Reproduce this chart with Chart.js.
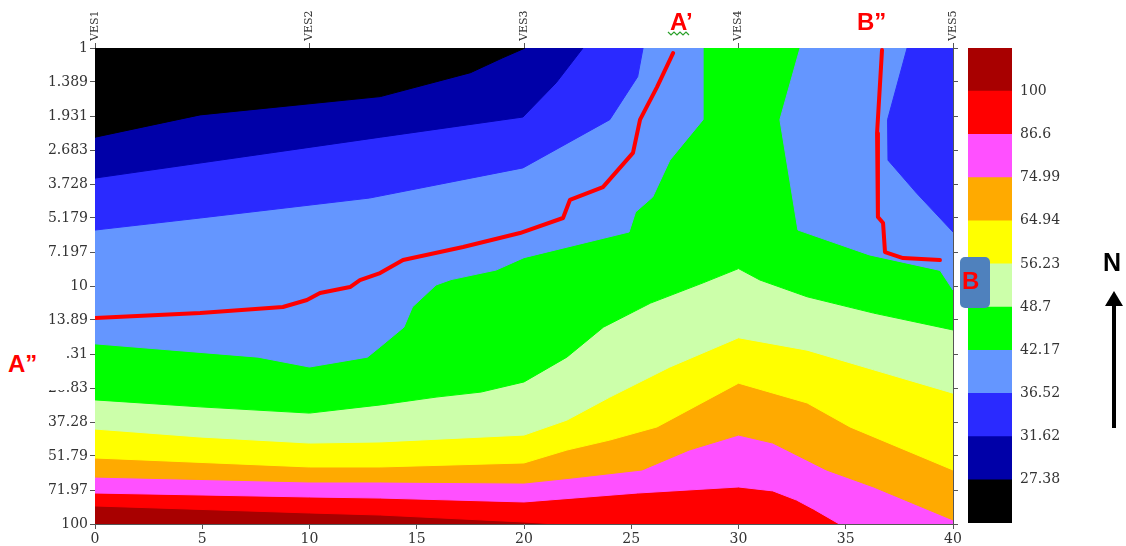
<!DOCTYPE html>
<html>
<head>
<meta charset="utf-8">
<script src="https://cdn.jsdelivr.net/npm/chart.js@4.4.1/dist/chart.umd.min.js"></script>
<style>
    body { margin: 0; background: #fff; }
    #wrap { position: relative; width: 1126px; height: 546px; overflow: hidden; }
    #mainChart { position: absolute; left: 0; top: 0; }
    #scaleChart { position: absolute; left: 960px; top: 0; }
    .tag { position: absolute; font-family: 'Liberation Sans', Arial, sans-serif; font-weight: bold; font-size: 24px; line-height: 24px; color: #ff0000; white-space: nowrap; }
    #maskA { position: absolute; left: 0; top: 340px; width: 65px; height: 50px; background: #fff; }
    #boxB { position: absolute; left: 960px; top: 257px; width: 30px; height: 51px; background: #4f81bd; border-radius: 5px; }
    #north { position: absolute; left: 1103px; top: 250px; font-family: 'Liberation Sans', Arial, sans-serif; font-weight: bold; font-size: 25px; line-height: 25px; color: #000; }
    #arrowShaft { position: absolute; left: 1112px; top: 303px; width: 4px; height: 125px; background: #000; }
    #arrowHead { position: absolute; left: 1105px; top: 291px; width: 0; height: 0; border-left: 9px solid transparent; border-right: 9px solid transparent; border-bottom: 15px solid #000; }
    #squiggle { position: absolute; left: 667px; top: 30px; }
</style>
</head>
<body>
<div id="wrap">
    <canvas id="mainChart" width="1126" height="546"></canvas>
    <canvas id="scaleChart" width="120" height="546"></canvas>
    <div class="tag" style="left:670px; top:10px;">A’</div>
    <svg id="squiggle" width="24" height="6"><polyline points="1,2 4,5 7,2 10,5 13,2 16,5 19,2 22,5" fill="none" stroke="#2aa02a" stroke-width="1.2"/></svg>
    <div class="tag" style="left:857px; top:10px;">B”</div>
    <div id="maskA"></div>
    <div class="tag" style="left:8px; top:352px;">A”</div>
    <div id="boxB"></div>
    <div class="tag" style="left:962px; top:269px;">B</div>
    <div id="north">N</div>
    <div id="arrowHead"></div>
    <div id="arrowShaft"></div>
</div>
<script>
// Depth axis (log, reversed: 1 m at the top)
const depthTicks = [1, 1.389, 1.931, 2.683, 3.728, 5.179, 7.197, 10, 13.89, 19.31, 26.83, 37.28, 51.79, 71.97, 100];
const depthLabels = ['1', '1.389', '1.931', '2.683', '3.728', '5.179', '7.197', '10', '13.89', '19.31', '26.83', '37.28', '51.79', '71.97', '100'];

// Sounding stations along the top
const vesNames = ['VES1', 'VES2', 'VES3', 'VES4', 'VES5'];
const vesPositions = [0, 10, 20, 30, 40];

// Colour scale: levels and band colours (lowest band first)
const levelLabels = ['27.38', '31.62', '36.52', '42.17', '48.7', '56.23', '64.94', '74.99', '86.6', '100'];
const bandColors = ['#000000', '#0000a8', '#2a2aff', '#6496ff', '#00ff00', '#ccffaa', '#ffff00', '#ffaa00', '#ff50ff', '#ff0000', '#a80000'];

// Contour lines as [distance, depth]; the area above each line is below that level
const c27 = [[0, 2.37], [4.9, 1.91], [13.3, 1.6], [17.5, 1.27], [19.0, 1.1], [20.05, 1]];
const c31 = [[0, 3.52], [13.3, 2.37], [19.95, 1.95], [21.5, 1.4], [22.75, 1]];
const c36Left = [[0, 5.82], [4.9, 5.18], [12.8, 4.27], [19.95, 3.19], [24.0, 2.0], [25.3, 1.32], [25.55, 1]];
const c36Right = [[37.86, 1], [36.95, 2.0], [36.97, 2.96], [38.3, 4.07], [40, 5.93]];
const c42Left = [[0, 17.5], [7.6, 19.9], [10, 21.9], [12.7, 19.9], [13.3, 18.0], [14.4, 14.9], [14.8, 12.25], [15.9, 9.9], [16.6, 9.4], [18.7, 8.57], [20, 7.6], [24.9, 5.93], [25.2, 4.89], [26.0, 4.23], [26.8, 2.96], [28.35, 2.0], [28.35, 1]];
const c42Right = [[32.87, 1], [31.93, 2.0], [32.77, 5.82], [36.1, 7.4], [39.4, 8.6], [40, 10.4]];
const c49 = [[0, 30.1], [4.9, 32.2], [10, 34.2], [13.3, 31.6], [15.9, 29.3], [18, 27.9], [20, 25.3], [22, 19.9], [23.7, 14.9], [25.9, 11.8], [28.35, 9.7], [30, 8.45], [31, 9.44], [33.2, 11.1], [36.3, 13.0], [40, 15.3]];
const c56 = [[0, 39.9], [4.9, 43.1], [10, 45.7], [13.3, 45.2], [20, 42.3], [22, 36.6], [24, 29.3], [26.8, 21.9], [30, 16.5], [33.2, 18.6], [36.3, 22.5], [40, 28.2]];
const c65 = [[0, 52.8], [10, 57.6], [13.3, 57.6], [20, 55.4], [22, 48.9], [24, 44.4], [26.2, 39.1], [30, 25.6], [33.2, 31.0], [35.2, 39.1], [40, 59.3]];
const c75 = [[0, 63.5], [10, 66.6], [13.3, 66.6], [20, 67.3], [22.1, 64.3], [25.5, 59.3], [27.7, 48.9], [30, 42.3], [31.6, 45.7], [34.1, 59.3], [36.3, 69.9], [40, 96.2]];
const c87 = [[0, 74.1], [10, 77.0], [13.3, 77.8], [20, 80.8], [25.3, 74.1], [30, 69.9], [31.6, 72.6], [32.7, 79.3], [33.5, 86.6], [34.7, 100], [40, 100]];
const c100 = [[0, 84.0], [10, 89.9], [13.3, 91.7], [20, 98.1], [21.5, 100], [40, 100]];
const cBottom = [[0, 100], [40, 100]];

// Profile lines drawn in red
const profileA = [[0, 13.63], [4.9, 12.98], [8.76, 12.25], [9.88, 11.45], [10.49, 10.7], [11.89, 10.1], [12.35, 9.44], [13.29, 8.82], [14.36, 7.78], [17.16, 6.86], [19.81, 5.99], [21.82, 5.18], [22.14, 4.35], [23.68, 3.84], [25.08, 2.76], [25.41, 2.0], [26.2, 1.46], [26.95, 1.05]];
const profileB = [[36.69, 1.02], [36.46, 2.28], [36.5, 5.13], [36.74, 5.44], [36.83, 7.2], [37.67, 7.63], [39.39, 7.78]];

const toPoints = (pairs) => pairs.map(p => ({ x: p[0], y: p[1] }));

// close a contour up to the top edge so it can be filled as a shape
function regionPoints(pairs) {
    const pts = toPoints(pairs);
    pts.unshift({ x: pairs[0][0], y: 1 });
    pts.push({ x: pairs[pairs.length - 1][0], y: 1 });
    return pts;
}

// painted top first (Chart.js draws dataset 0 last)
const regions = [
    [c27, 0], [c31, 1], [c36Left, 2], [c36Right, 2], [c42Left, 3], [c42Right, 3],
    [c49, 4], [c56, 5], [c65, 6], [c75, 7], [c87, 8], [c100, 9], [cBottom, 10]
];

const lineSet = (pairs) => ({
    data: toPoints(pairs),
    borderColor: '#ff0000',
    borderWidth: 4,
    borderCapStyle: 'round',
    borderJoinStyle: 'round',
    pointRadius: 0,
    fill: false,
    tension: 0,
    clip: 0
});

const datasets = [lineSet(profileA), lineSet(profileB)];
regions.forEach(([pairs, band]) => {
    datasets.push({
        data: regionPoints(pairs),
        backgroundColor: bandColors[band],
        borderColor: bandColors[band],
        borderWidth: 1,
        pointRadius: 0,
        fill: 'shape',
        tension: 0,
        clip: 0
    });
});

const tickFont = { family: "'DejaVu Serif', 'Liberation Serif', serif", size: 14 };
const axisGrid = { drawOnChartArea: false, drawTicks: true, tickLength: 5, color: '#555' };
const axisBorder = { display: true, color: '#555', width: 1 };

const depthAxis = (pos, width, showLabels) => ({
    type: 'logarithmic',
    position: pos,
    reverse: true,
    min: 1,
    max: 100,
    afterBuildTicks: (axis) => { axis.ticks = depthTicks.map(v => ({ value: v })); },
    afterFit: (axis) => { axis.width = width; },
    ticks: {
        display: showLabels,
        autoSkip: false,
        padding: 2,
        color: '#333',
        font: tickFont,
        callback: (value, index) => depthLabels[index]
    },
    grid: axisGrid,
    border: axisBorder
});

new Chart(document.getElementById('mainChart'), {
    type: 'line',
    data: { datasets: datasets },
    options: {
        responsive: false,
        animation: false,
        layout: { padding: 0 },
        plugins: { legend: { display: false }, tooltip: { enabled: false } },
        scales: {
            x: {
                type: 'linear',
                position: 'bottom',
                min: 0,
                max: 40,
                afterFit: (axis) => { axis.height = 22; },
                ticks: { stepSize: 5, padding: 2, color: '#333', font: tickFont, maxRotation: 0 },
                grid: axisGrid,
                border: axisBorder
            },
            xTop: {
                type: 'linear',
                position: 'top',
                min: 0,
                max: 40,
                afterBuildTicks: (axis) => { axis.ticks = vesPositions.map(v => ({ value: v })); },
                afterFit: (axis) => { axis.height = 48; },
                ticks: {
                    autoSkip: false,
                    minRotation: 90,
                    maxRotation: 90,
                    padding: 2,
                    labelOffset: 13,
                    color: '#333',
                    font: { family: "'DejaVu Serif', serif", size: 11 },
                    callback: (value, index) => vesNames[index]
                },
                grid: axisGrid,
                border: axisBorder
            },
            y: depthAxis('left', 95, true),
            y2: depthAxis('right', 173, false)
        }
    }
});

// Colour bar: one stacked column, labels on the band borders
const scaleSets = bandColors.map(c => ({
    data: [1],
    backgroundColor: c,
    borderWidth: 0,
    barPercentage: 1,
    categoryPercentage: 1
}));

new Chart(document.getElementById('scaleChart'), {
    type: 'bar',
    data: { labels: [''], datasets: scaleSets },
    options: {
        responsive: false,
        animation: false,
        layout: { padding: { left: 8, top: 48, bottom: 23, right: 0 } },
        plugins: { legend: { display: false }, tooltip: { enabled: false } },
        scales: {
            x: { stacked: true, display: false },
            y: {
                stacked: true,
                position: 'right',
                min: 0,
                max: 11,
                afterBuildTicks: (axis) => { axis.ticks = levelLabels.map((l, i) => ({ value: i + 1 })); },
                afterFit: (axis) => { axis.width = 68; },
                ticks: {
                    autoSkip: false,
                    padding: 8,
                    color: '#333',
                    font: tickFont,
                    callback: (value, index) => levelLabels[index]
                },
                grid: { display: false, drawTicks: false },
                border: { display: false }
            }
        }
    }
});
</script>
</body>
</html>
